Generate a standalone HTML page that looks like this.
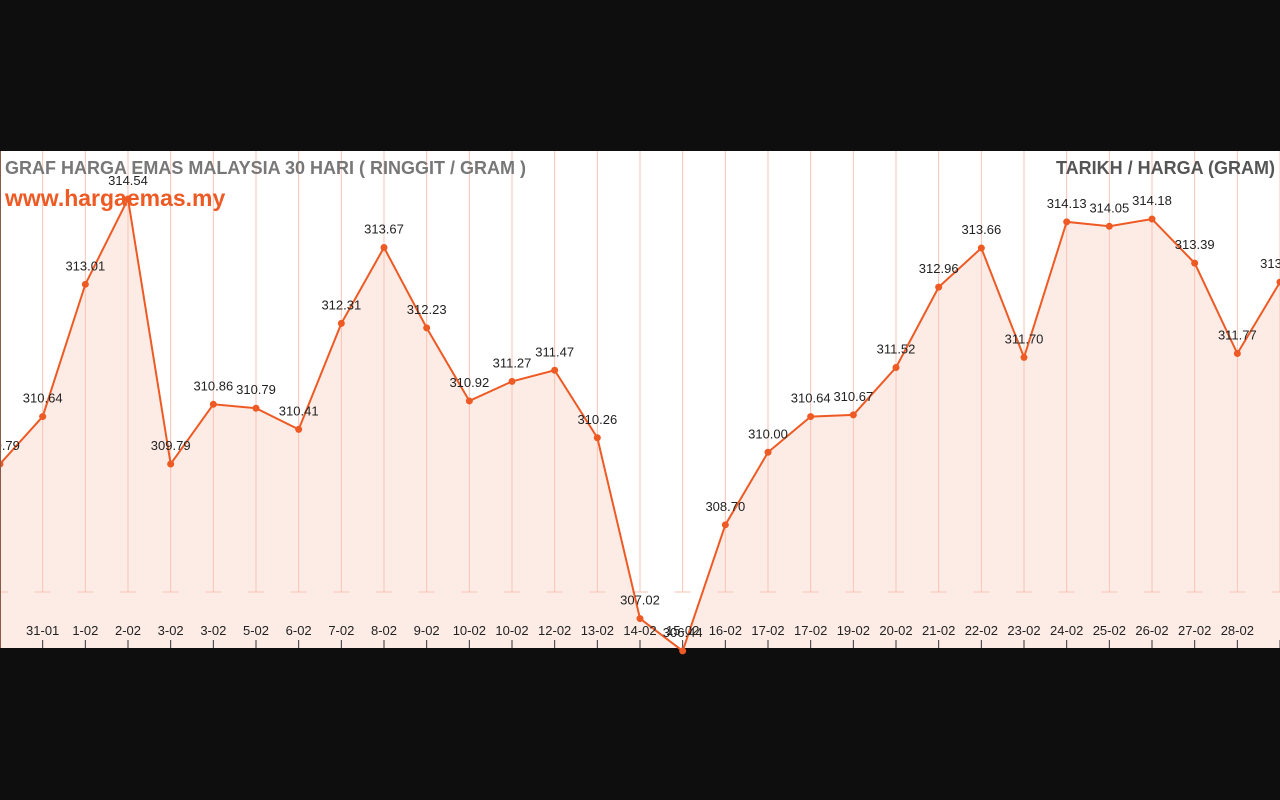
<!DOCTYPE html>
<html><head><meta charset="utf-8"><style>
html,body{margin:0;padding:0;background:#0e0e0e;width:1280px;height:800px;overflow:hidden}
svg{display:block}
</style></head><body>
<svg width="1280" height="800">
<rect x="0" y="0" width="1280" height="800" fill="#0e0e0e"/>
<rect x="0" y="151" width="1280" height="497" fill="#ffffff"/>
<path id="area" fill="#fdece6"/>
<g id="grid"></g>
<g id="caps"></g>
<path id="line" fill="none" stroke="#ee5a24" stroke-width="2"/>
<g id="pts"></g>
<g id="xl"></g>
<line x1="0.5" y1="151" x2="0.5" y2="648" stroke="#8a5a48" stroke-width="1"/>
<text x="5" y="174" font-family="Liberation Sans, sans-serif" font-size="18" font-weight="bold" fill="#777">GRAF HARGA EMAS MALAYSIA 30 HARI ( RINGGIT / GRAM )</text>
<text x="5" y="206" font-family="Liberation Sans, sans-serif" font-size="23" font-weight="bold" fill="#ee5a24">www.hargaemas.my</text>
<text x="1275" y="174" text-anchor="end" font-family="Liberation Sans, sans-serif" font-size="18" font-weight="bold" fill="#555">TARIKH / HARGA (GRAM)</text>
</svg>
<script>
const categories=["30-01","31-01","1-02","2-02","3-02","3-02","5-02","6-02","7-02","8-02","9-02","10-02","10-02","12-02","13-02","14-02","15-02","16-02","17-02","17-02","19-02","20-02","21-02","22-02","23-02","24-02","25-02","26-02","27-02","28-02","1-03"];
const values=[309.79,310.64,313.01,314.54,309.79,310.86,310.79,310.41,312.31,313.67,312.23,310.92,311.27,311.47,310.26,307.02,306.44,308.70,310.00,310.64,310.67,311.52,312.96,313.66,311.70,314.13,314.05,314.18,313.39,311.77,313.05];
const valueLabels=values.map(v=>v.toFixed(2));
const NS="http://www.w3.org/2000/svg";
const x=i=>i*42.667;
const y=v=>464-(v-309.79)*55.8;
function mk(t,a,p){const e=document.createElementNS(NS,t);for(const k in a)e.setAttribute(k,a[k]);p.appendChild(e);return e;}
const grid=document.getElementById('grid'),caps=document.getElementById('caps'),pts=document.getElementById('pts'),xl=document.getElementById('xl');
let d='';
values.forEach((v,i)=>{d+=(i?'L':'M')+x(i)+','+y(v);});
document.getElementById('line').setAttribute('d',d);
document.getElementById('area').setAttribute('d',d+'L'+x(values.length-1)+',648L0,648Z');
values.forEach((v,i)=>{
  const X=x(i);
  const g=mk('line',{x1:X,y1:151,x2:X,y2:592,stroke:'#f7c3b3','stroke-width':1},grid);
  
  
  const c=mk('line',{x1:X-8,y1:592,x2:X+8,y2:592,stroke:'#f7c3b3','stroke-width':1},caps);
  
  
  const tk=mk('line',{x1:X,y1:640,x2:X,y2:648,stroke:'#333','stroke-width':1},caps);
  
  
  const p=mk('circle',{cx:X,cy:y(v),r:3.5,fill:'#ee5a24'},pts);
  
  
  const t=mk('text',{x:X,y:y(v)-14,'text-anchor':'middle','font-family':'Liberation Sans, sans-serif','font-size':13,fill:'#222'},pts);
  t.textContent=valueLabels[i];
  
  
  if(i>0&&i<values.length-1){
    const l=mk('text',{x:X,y:635,'text-anchor':'middle','font-family':'Liberation Sans, sans-serif','font-size':13,fill:'#222'},xl);
    l.textContent=categories[i];
    
    
  }
});
</script>
</body></html>
